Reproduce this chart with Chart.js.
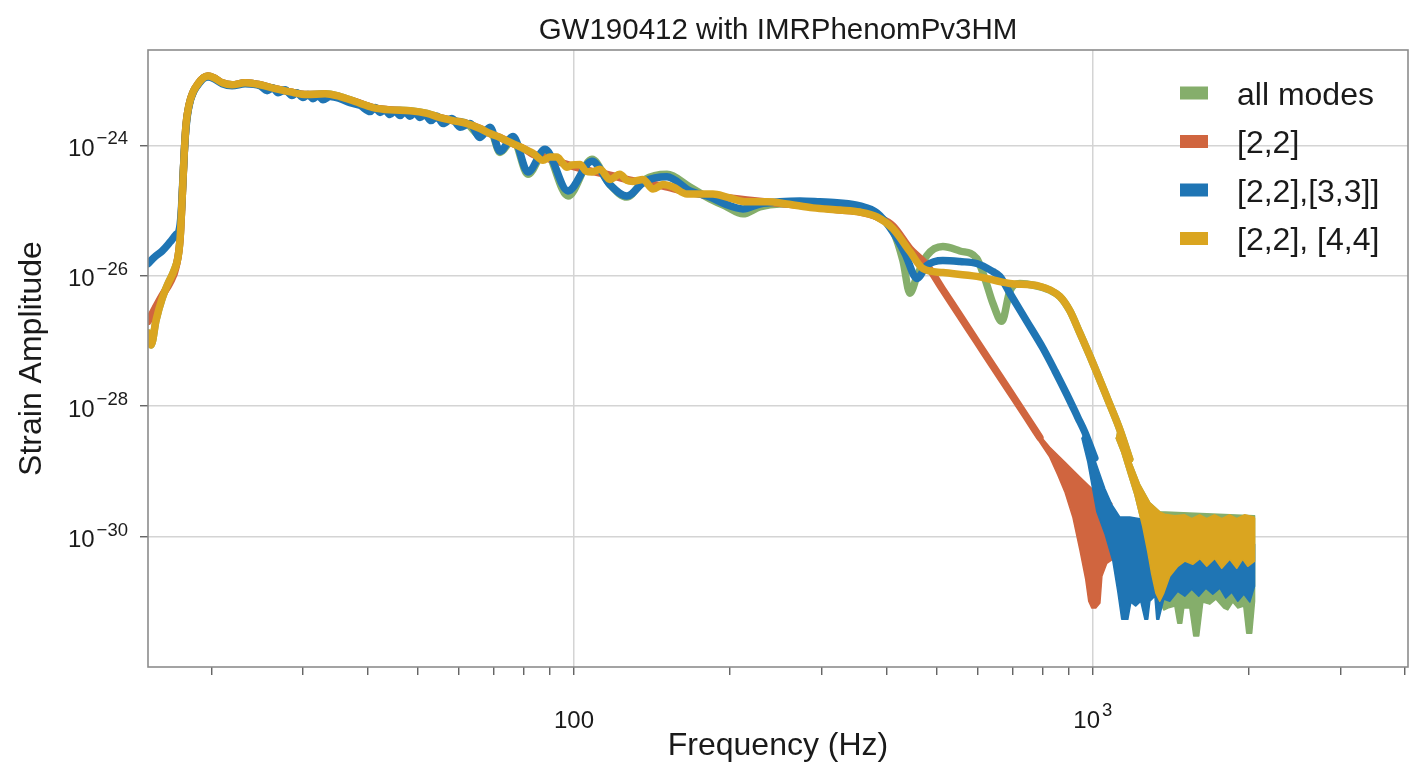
<!DOCTYPE html>
<html>
<head>
<meta charset="utf-8">
<title>GW190412 with IMRPhenomPv3HM</title>
<script src="https://cdn.jsdelivr.net/npm/chart.js@4.4.0/dist/chart.umd.min.js"></script>
<style>
  html, body { margin: 0; padding: 0; background: #fff; }
  #wrap { width: 1413px; height: 769px; }
</style>
</head>
<body>
<div id="wrap"><canvas id="asdChart" width="1413" height="769"></canvas></div>
<script>
// [frequency (Hz), strain amplitude]
const allModes = [
  [15.11, 1.32e-27], [15.31, 8.7e-28], [15.65, 2.09e-27], [16.08, 4.5e-27], [16.51, 7.6e-27], [16.96, 1.21e-26],
  [17.26, 1.97e-26], [17.41, 3.7e-26], [17.57, 1.51e-25], [17.73, 7.3e-25], [17.88, 2.1e-24], [18.12, 4.2e-24],
  [18.45, 6.6e-24], [18.86, 8.8e-24], [19.28, 1.08e-23], [19.71, 1.16e-23], [20.25, 1.08e-23], [20.99, 9.1e-24],
  [21.93, 8.5e-24], [23.23, 9.1e-24], [24.83, 8.5e-24], [26.54, 7.4e-24], [28.36, 6.6e-24], [30.58, 6.0e-24],
  [33.13, 6.2e-24], [35.40, 5.6e-24], [37.84, 4.7e-24], [41.00, 3.8e-24], [44.20, 3.5e-24], [48.31, 3.4e-24],
  [52.09, 3.1e-24], [55.18, 2.67e-24], [58.45, 2.4e-24], [62.20, 2.16e-24], [65.90, 1.42e-24], [68.89, 1.75e-24],
  [72.01, 7.8e-25], [76.31, 1.23e-24], [81.53, 3.6e-25], [87.94, 8.1e-25], [97.37, 1.67e-25], [108.3, 6.1e-25],
  [117.3, 2.5e-25], [126.5, 1.61e-25], [137.0, 3.0e-25], [151.1, 3.6e-25], [167.3, 2.3e-25], [182.8, 1.51e-25],
  [195.4, 1.18e-25], [211.7, 8.9e-26], [228.2, 1.14e-25], [249.4, 1.26e-25], [272.6, 1.26e-25], [297.9, 1.22e-25],
  [325.5, 1.14e-25], [355.7, 1.02e-25], [383.6, 8.0e-26], [411.8, 4.9e-26], [430.5, 1.71e-26], [444.1, 5.4e-27],
  [458.1, 9.8e-27], [478.9, 2.04e-26], [514.0, 2.8e-26], [554.3, 2.4e-26], [597.6, 1.84e-26], [619.2, 9.1e-27],
  [641.6, 3.8e-27], [667.8, 2.0e-27], [691.9, 5.8e-27], [723.3, 7.6e-27], [773.0, 7.1e-27], [826.3, 6.0e-27],
  [863.9, 4.8e-27], [903.1, 2.9e-27], [944.1, 1.32e-27], [1000, 4.6e-28], [1068.8, 1.26e-28], [1127.1, 4.4e-29],
  [1178, 1.54e-29]
];
const mode22 = [
  [15.11, 2.0e-27], [15.59, 3.2e-27], [16.08, 5.0e-27], [16.66, 7.9e-27], [17.11, 1.39e-26], [17.41, 3.7e-26],
  [17.57, 1.51e-25], [17.73, 7.3e-25], [17.88, 2.1e-24], [18.12, 4.2e-24], [18.45, 6.6e-24], [18.86, 8.8e-24],
  [19.28, 1.08e-23], [19.71, 1.16e-23], [20.25, 1.08e-23], [20.99, 9.1e-24], [21.93, 8.5e-24], [23.23, 9.1e-24],
  [24.83, 8.5e-24], [26.54, 7.4e-24], [28.36, 6.6e-24], [30.58, 6.0e-24], [33.13, 6.0e-24], [35.40, 5.4e-24],
  [37.84, 4.7e-24], [41.00, 3.8e-24], [44.20, 3.5e-24], [48.31, 3.3e-24], [52.09, 2.97e-24], [55.18, 2.67e-24],
  [58.45, 2.4e-24], [62.20, 2.16e-24], [65.90, 1.81e-24], [68.89, 1.52e-24], [72.01, 1.32e-24], [74.62, 1.15e-24],
  [77.65, 1.0e-24], [80.46, 8.7e-25], [83.37, 7.3e-25], [87.15, 6.6e-25], [92.74, 5.7e-25], [99.11, 4.8e-25],
  [108.3, 4.0e-25], [117.3, 3.5e-25], [126.5, 3.0e-25], [135.8, 2.7e-25], [148.4, 2.37e-25], [165.1, 1.92e-25],
  [185.3, 1.67e-25], [215.4, 1.45e-25], [257.3, 1.26e-25], [288.8, 1.14e-25], [325.5, 1.02e-25], [355.7, 9.5e-26],
  [383.6, 8.0e-26], [411.8, 5.8e-26], [444.1, 2.6e-26], [478.9, 1.44e-26], [514.0, 6.1e-27], [554.3, 2.45e-27],
  [597.6, 9.8e-28], [641.6, 4.16e-28], [691.9, 1.67e-28], [746.1, 6.7e-29], [790.5, 3.3e-29]
];
const modes22and33 = [
  [15.11, 1.54e-26], [15.59, 1.97e-26], [16.08, 2.4e-26], [16.66, 3.3e-26], [17.11, 4.3e-26], [17.33, 4.9e-26],
  [17.49, 8.9e-26], [17.65, 3.6e-25], [17.80, 1.23e-24], [17.96, 2.67e-24], [18.20, 4.7e-24], [18.53, 6.9e-24],
  [18.86, 8.5e-24], [19.28, 1.05e-23], [19.71, 1.12e-23], [20.25, 1.05e-23], [20.99, 8.8e-24], [21.93, 8.2e-24],
  [23.23, 8.8e-24], [24.83, 8.2e-24], [25.62, 6.9e-24], [26.30, 7.6e-24], [26.89, 6.4e-24], [27.74, 7.1e-24],
  [28.61, 5.8e-24], [29.25, 6.4e-24], [30.04, 5.4e-24], [30.72, 6.0e-24], [31.41, 5.2e-24], [32.11, 5.8e-24],
  [32.83, 5.0e-24], [33.87, 5.6e-24], [35.40, 5.2e-24], [37.02, 4.5e-24], [38.70, 4.1e-24], [40.46, 3.3e-24],
  [41.36, 3.8e-24], [42.29, 3.2e-24], [43.23, 3.5e-24], [44.20, 2.97e-24], [45.19, 3.4e-24], [46.21, 2.86e-24],
  [47.24, 3.3e-24], [48.31, 2.8e-24], [49.38, 3.2e-24], [50.49, 2.67e-24], [51.62, 2.97e-24], [53.02, 2.4e-24],
  [54.45, 2.8e-24], [55.92, 2.16e-24], [58.19, 2.58e-24], [60.30, 1.9e-24], [63.03, 2.16e-24], [65.90, 1.32e-24],
  [68.89, 1.9e-24], [72.01, 8.1e-25], [76.31, 1.37e-24], [81.53, 3.9e-25], [87.94, 8.7e-25], [97.37, 2.0e-25],
  [108.3, 5.7e-25], [117.3, 2.5e-25], [126.5, 1.67e-25], [137.0, 2.8e-25], [151.1, 3.3e-25], [167.3, 2.0e-25],
  [182.8, 1.61e-25], [195.4, 1.26e-25], [211.7, 1.06e-25], [228.2, 1.26e-25], [249.4, 1.36e-25], [272.6, 1.40e-25],
  [297.9, 1.36e-25], [325.5, 1.31e-25], [355.7, 1.18e-25], [383.6, 9.2e-26], [411.8, 4.7e-26], [434.4, 2.2e-26],
  [458.1, 9.1e-27], [478.9, 1.44e-26], [514.0, 1.71e-26], [554.3, 1.65e-26], [597.6, 1.54e-26], [641.6, 1.16e-26],
  [661.9, 9.8e-27], [691.9, 5.4e-27], [746.1, 2.0e-27], [801.1, 7.8e-28], [845.0, 3.5e-28], [891.2, 1.51e-28],
  [935.8, 6.7e-29], [965.1, 4.0e-29], [1009, 1.6e-29]
];
const modes22and44 = [
  [15.11, 1.32e-27], [15.31, 8.7e-28], [15.65, 2.09e-27], [16.08, 4.5e-27], [16.51, 7.6e-27], [16.96, 1.21e-26],
  [17.26, 1.97e-26], [17.41, 3.7e-26], [17.57, 1.51e-25], [17.73, 7.3e-25], [17.88, 2.1e-24], [18.12, 4.2e-24],
  [18.45, 6.6e-24], [18.86, 8.8e-24], [19.28, 1.08e-23], [19.71, 1.16e-23], [20.25, 1.08e-23], [20.99, 9.1e-24],
  [21.93, 8.5e-24], [23.23, 9.1e-24], [24.83, 8.5e-24], [26.54, 7.4e-24], [28.36, 6.6e-24], [30.58, 6.0e-24],
  [33.13, 6.2e-24], [35.40, 5.6e-24], [37.84, 4.7e-24], [41.00, 3.8e-24], [44.20, 3.5e-24], [48.31, 3.4e-24],
  [52.09, 3.1e-24], [55.18, 2.67e-24], [58.45, 2.4e-24], [62.20, 2.16e-24], [65.90, 1.81e-24], [68.89, 1.52e-24],
  [72.01, 1.32e-24], [74.62, 1.15e-24], [77.65, 1.0e-24], [80.46, 8.7e-25], [83.37, 7.6e-25], [87.15, 5.9e-25],
  [89.90, 6.6e-25], [92.74, 6.6e-25], [94.82, 5.5e-25], [96.94, 4.6e-25], [99.11, 5.0e-25], [102.7, 5.1e-25],
  [105.5, 4.0e-25], [108.3, 3.9e-25], [112.2, 4.3e-25], [117.3, 3.0e-25], [122.6, 3.6e-25], [126.5, 2.9e-25],
  [129.9, 2.8e-25], [135.8, 3.0e-25], [142.0, 2.14e-25], [148.4, 2.5e-25], [155.2, 2.3e-25], [165.1, 1.79e-25],
  [174.9, 1.79e-25], [185.3, 1.79e-25], [197.1, 1.61e-25], [215.4, 1.36e-25], [235.5, 1.36e-25], [257.3, 1.26e-25],
  [288.8, 1.10e-25], [325.5, 1.02e-25], [355.7, 9.5e-26], [383.6, 8.0e-26], [411.8, 5.3e-26], [444.1, 2.35e-26],
  [470.4, 1.29e-26], [514.0, 1.12e-26], [597.6, 9.8e-27], [691.9, 7.6e-27], [790.5, 6.9e-27], [863.9, 4.8e-27],
  [903.1, 2.9e-27], [944.1, 1.32e-27], [1000, 4.6e-28], [1068.8, 1.26e-28], [1127.1, 4.4e-29], [1178, 1.54e-29]
];

// fast ringing at high frequency, traced as outlines (upper edge then lower edge)
const allModesBand = [
  [1117, 4.7e-29], [1178, 1.54e-29], [1232, 6.2e-30], [1288, 3.3e-30], [1346, 2.4e-30], [2043, 2.09e-30],
  [2050, 2.09e-30], [2050, 1.02e-31], [2024, 3.3e-32], [1980, 3.3e-32], [1954, 8.6e-32], [1903, 8.0e-32],
  [1861, 9.9e-32], [1820, 7.5e-32], [1788, 8.0e-32], [1726, 1.10e-31], [1680, 9.2e-32], [1629, 9.9e-32],
  [1600, 3.0e-32], [1565, 3.0e-32], [1538, 8.0e-32], [1497, 8.0e-32], [1484, 4.7e-32], [1458, 4.7e-32],
  [1439, 8.6e-32], [1395, 8.0e-32], [1370, 7.5e-32], [1346, 1.02e-31], [1323, 1.36e-31], [1299, 2.64e-31],
  [1276, 5.9e-31], [1248, 1.42e-30], [1205, 4.4e-30], [1168, 9.8e-30], [1137, 1.97e-29], [1108, 3.3e-29]
];
const mode22Band = [
  [773, 4.4e-29], [826, 2.35e-29], [883, 1.39e-29], [944, 8.2e-30], [1009, 4.9e-30], [1064, 3.8e-30],
  [1088, 3.2e-30], [1093, 4.5e-31], [1064, 3.9e-31], [1041, 2.46e-31], [1032, 9.6e-32], [1013, 8.0e-32],
  [996, 8.0e-32], [982, 1.02e-31], [969, 2.2e-31], [944, 6.3e-31], [915, 2.0e-30], [883, 4.9e-30],
  [856, 8.8e-30], [826, 1.65e-29], [790.5, 2.8e-29], [773, 3.7e-29]
];
const modes22and33Band = [
  [965, 4.2e-29], [1009, 1.49e-29], [1055, 5.4e-30], [1088, 3.1e-30], [1127, 2.0e-30], [1178, 2.0e-30],
  [1232, 1.88e-30], [1288, 1.42e-30], [1346, 1.0e-30], [1439, 8.4e-31], [1608, 7.6e-31], [1836, 7.6e-31],
  [2043, 7.6e-31], [2050, 7.6e-31], [2050, 1.73e-31], [2007, 9.9e-32], [1954, 1.31e-31], [1903, 1.02e-31],
  [1853, 1.40e-31], [1804, 1.14e-31], [1757, 1.62e-31], [1703, 1.31e-31], [1651, 1.62e-31], [1600, 1.22e-31],
  [1551, 1.56e-31], [1504, 1.22e-31], [1458, 1.45e-31], [1407, 1.02e-31], [1370, 1.10e-31], [1340, 5.4e-32],
  [1328, 5.4e-32], [1317, 1.22e-31], [1288, 1.02e-31], [1276, 5.4e-32], [1260, 5.4e-32], [1237, 1.02e-31],
  [1210, 8.6e-32], [1184, 9.9e-32], [1168, 5.4e-32], [1137, 5.4e-32], [1117, 1.45e-31], [1093, 4.2e-31],
  [1055, 1.11e-30], [1018, 2.4e-30], [978, 1.39e-29], [952, 3.3e-29]
];
const modes22and44Band = [
  [1117, 4.7e-29], [1178, 1.54e-29], [1232, 6.2e-30], [1288, 3.3e-30], [1346, 2.4e-30], [1376, 2.2e-30],
  [1439, 2.09e-30], [1504, 2.16e-30], [1551, 1.88e-30], [1608, 2.16e-30], [1658, 1.88e-30], [1718, 2.16e-30],
  [1772, 1.88e-30], [1836, 2.16e-30], [1894, 1.88e-30], [1963, 2.16e-30], [2043, 2.0e-30], [2050, 1.9e-30],
  [2050, 4.2e-31], [1989, 3.5e-31], [1945, 4.5e-31], [1894, 3.26e-31], [1836, 4.5e-31], [1772, 3.26e-31],
  [1718, 4.6e-31], [1658, 3.5e-31], [1608, 4.6e-31], [1558, 3.75e-31], [1504, 4.2e-31], [1458, 3.5e-31],
  [1407, 2.46e-31], [1370, 1.36e-31], [1346, 1.02e-31], [1323, 1.36e-31], [1299, 2.64e-31], [1276, 5.9e-31],
  [1248, 1.42e-30], [1205, 4.4e-30], [1168, 9.8e-30], [1137, 1.97e-29], [1108, 3.3e-29]
];

const seriesLabels = ['all modes', '[2,2]', '[2,2],[3,3]]', '[2,2], [4,4]'];
const seriesColors = ['#85ae6b', '#d0653f', '#1f75b4', '#daa520'];

const xTicks = [20, 30, 40, 50, 60, 70, 80, 90, 100, 200, 300, 400, 500, 600, 700, 800, 900, 1000, 2000, 3000, 4000];
const xLabelTicks = [100, 1000];
const xLabelBase = ['100', '10'];
const xLabelExp = ['', '3'];
const yTicks = [1e-30, 1e-28, 1e-26, 1e-24];

const FONT = '"Liberation Sans", Arial, Helvetica, sans-serif';
const textColor = '#1a1a1a';
const gridColor = '#d4d4d4';
const frameColor = '#8c8c8c';

const toXY = pts => pts.map(p => ({x: p[0], y: p[1]}));

function curve(i, pts, order) {
    return {
        label: seriesLabels[i],
        data: toXY(pts),
        borderColor: seriesColors[i],
        backgroundColor: seriesColors[i],
        borderWidth: 7.5,
        borderCapStyle: 'round',
        borderJoinStyle: 'round',
        cubicInterpolationMode: 'monotone',
        pointRadius: 0,
        fill: false,
        order: order
    };
}

function band(i, pts, order) {
    return {
        label: seriesLabels[i] + ' ringing',
        data: toXY(pts),
        borderColor: seriesColors[i],
        backgroundColor: seriesColors[i],
        borderWidth: 1.5,
        borderJoinStyle: 'round',
        tension: 0,
        pointRadius: 0,
        fill: 'shape',
        order: order
    };
}

function drawPower(ctx, base, exp, x, y, anchor) {
    const baseFont = '24px ' + FONT;
    const supFont = '18.5px ' + FONT;
    ctx.font = baseFont;
    const wb = ctx.measureText(base).width;
    ctx.font = supFont;
    const we = exp ? ctx.measureText(exp).width + 2 : 0;
    const left = anchor === 'right' ? x - wb - we : x - (wb + we) / 2;
    ctx.font = baseFont;
    ctx.fillText(base, left, y);
    if (exp) {
        ctx.font = supFont;
        ctx.fillText(exp, left + wb + 2, y - 10);
    }
}

// frame, superscript tick labels and the in-axes legend
const overlay = {
    id: 'overlay',
    afterDatasetsDraw(chart) {
        const {ctx, chartArea: a, scales} = chart;
        ctx.save();
        ctx.strokeStyle = frameColor;
        ctx.lineWidth = 1.6;
        ctx.strokeRect(a.left, a.top, a.right - a.left, a.bottom - a.top);

        ctx.fillStyle = textColor;
        ctx.textAlign = 'left';
        ctx.textBaseline = 'middle';
        yTicks.forEach(v => {
            const py = scales.y.getPixelForValue(v);
            const e = Math.round(Math.log10(v));
            drawPower(ctx, '10', '\u2212' + Math.abs(e), a.left - 20, py + 4, 'right');
        });
        xLabelTicks.forEach((v, i) => {
            const px = scales.x.getPixelForValue(v);
            drawPower(ctx, xLabelBase[i], xLabelExp[i], px, a.bottom + 54, 'center');
        });

        const lx = a.right - 228;
        const ly = a.top + 43;
        ctx.font = '32px ' + FONT;
        seriesLabels.forEach((t, i) => {
            const cy = ly + i * 48.5;
            ctx.fillStyle = seriesColors[i];
            ctx.fillRect(lx, cy - 6.5, 28, 13);
            ctx.fillStyle = textColor;
            ctx.fillText(t, lx + 57, cy + 3);
        });
        ctx.restore();
    }
};

document.addEventListener('DOMContentLoaded', () => {
    const ctx = document.getElementById('asdChart').getContext('2d');
    new Chart(ctx, {
        type: 'line',
        data: {
            datasets: [
                curve(3, modes22and44, 1),
                band(3, modes22and44Band, 1),
                curve(2, modes22and33, 2),
                band(2, modes22and33Band, 2),
                curve(1, mode22, 3),
                band(1, mode22Band, 3),
                curve(0, allModes, 4),
                band(0, allModesBand, 4)
            ]
        },
        options: {
            responsive: false,
            devicePixelRatio: 1,
            animation: false,
            events: [],
            layout: { padding: { left: 0, right: 5, top: 0, bottom: 0 } },
            plugins: {
                legend: { display: false },
                tooltip: { enabled: false },
                title: {
                    display: true,
                    text: 'GW190412 with IMRPhenomPv3HM',
                    fullSize: false,
                    color: textColor,
                    font: { family: FONT, size: 29.5, weight: 'normal' },
                    padding: { top: 13, bottom: 1.6 }
                }
            },
            scales: {
                x: {
                    type: 'logarithmic',
                    min: 15.1,
                    max: 4050,
                    afterBuildTicks: s => { s.ticks = xTicks.map(v => ({value: v})); },
                    afterFit: s => { s.height = 102; },
                    ticks: { display: false },
                    border: { display: false },
                    grid: {
                        color: c => (c.tick && xLabelTicks.includes(c.tick.value)) ? gridColor : 'rgba(0,0,0,0)',
                        lineWidth: 1.5,
                        tickColor: '#555',
                        tickLength: 8,
                        tickWidth: 1.3
                    },
                    title: {
                        display: true,
                        text: 'Frequency (Hz)',
                        color: textColor,
                        font: { family: FONT, size: 32 },
                        padding: { top: 0, bottom: 4 }
                    }
                },
                y: {
                    type: 'logarithmic',
                    min: 1.16e-32,
                    max: 2.9e-23,
                    afterBuildTicks: s => { s.ticks = yTicks.map(v => ({value: v})); },
                    afterFit: s => { s.width = 148; },
                    ticks: { display: false },
                    border: { display: false },
                    grid: {
                        color: gridColor,
                        lineWidth: 1.5,
                        tickColor: '#555',
                        tickLength: 8,
                        tickWidth: 1.3
                    },
                    title: {
                        display: true,
                        text: 'Strain Amplitude',
                        color: textColor,
                        font: { family: FONT, size: 32 },
                        padding: { top: 13, bottom: 0 }
                    }
                }
            }
        },
        plugins: [overlay]
    });
});
</script>
</body>
</html>
